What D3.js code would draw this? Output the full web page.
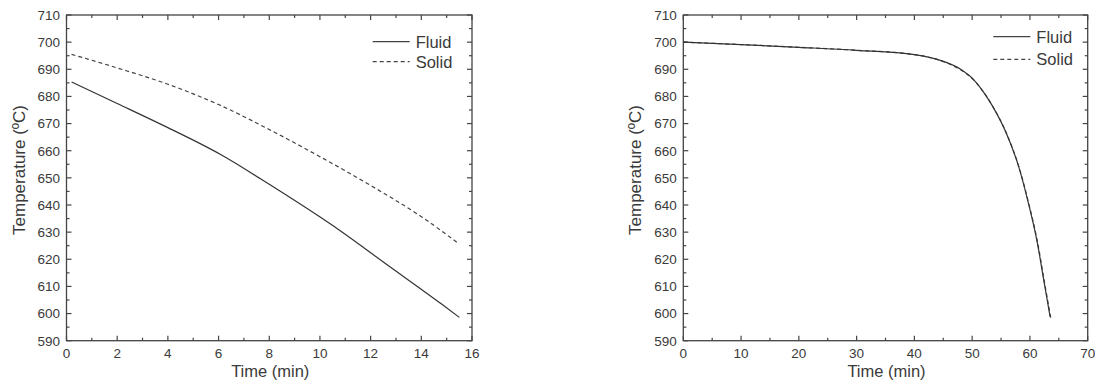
<!DOCTYPE html>
<html>
<head>
<meta charset="utf-8">
<script src="https://cdn.jsdelivr.net/npm/d3@7"></script>
<style>
  body { margin: 0; background: #fff; }
  text { font-family: "Liberation Sans", Arial, sans-serif; fill: #3a3a3a; }
</style>
</head>
<body>
<div id="chart"></div>
<script>
// left panel: short run
var leftFluidTime = [0.2, 2, 4, 6.1, 8, 10.8, 12.5, 14.8, 15.5];
var leftFluidTemp = [685.3, 677.4, 668.5, 658.5, 647.6, 630.5, 619, 603.5, 598.6];
var leftSolidTime = [0.2, 2, 4, 6, 8, 10, 12, 14, 15.5];
var leftSolidTemp = [695.5, 690.5, 684.5, 677, 667.8, 657.8, 647.2, 635.7, 625.6];

// right panel: long run
var rightFluidTime = [0, 10, 20, 30, 40, 44.5, 48, 50.2, 52, 53.5, 56, 58, 59.7, 61.2, 62.5, 63.5];
var rightFluidTemp = [700, 699.1, 698.1, 697, 695.4, 693.3, 690, 686.3, 681.5, 676.5, 666, 654.5, 641, 627, 611, 598.8];
var rightSolidTime = [0, 10, 20, 30, 40, 44.5, 48, 50.3, 52.1, 53.6, 56.1, 58.1, 59.8, 61.3, 62.6, 63.6];
var rightSolidTemp = [700, 699.1, 698.1, 697, 695.4, 693.2, 689.8, 686, 681.2, 676.2, 665.6, 654, 640.5, 626.5, 610.5, 598.5];

var yTicks = [590, 600, 610, 620, 630, 640, 650, 660, 670, 680, 690, 700, 710];
var seriesNames = ["Fluid", "Solid"];

var svg = d3.select("#chart").append("svg")
    .attr("width", 1095)
    .attr("height", 383);

function zip(ts, vs) {
    return ts.map(function(t, i) { return { t: t, v: vs[i] }; });
}

function drawPanel(opt) {
    var g = svg.append("g");
    var x = d3.scaleLinear().domain(opt.xDomain).range([opt.left, opt.right]);
    var y = d3.scaleLinear().domain([590, 710]).range([340.7, 15]);

    var majorX = d3.range(opt.xDomain[0], opt.xDomain[1] + 0.001, opt.xStep);
    var minorX = d3.range(opt.xDomain[0] + opt.xStep / 2, opt.xDomain[1], opt.xStep);
    var minorY = d3.range(595, 710, 10);

    // frame
    g.append("rect")
        .attr("x", x.range()[0]).attr("y", y.range()[1])
        .attr("width", x.range()[1] - x.range()[0])
        .attr("height", y.range()[0] - y.range()[1])
        .attr("fill", "none").attr("stroke", "#444").attr("stroke-width", 1.3);

    // inward ticks, all four sides
    function ticks(vals, len, vertical) {
        vals.forEach(function(v) {
            if (vertical) {
                var px = x(v);
                g.append("line").attr("x1", px).attr("x2", px)
                    .attr("y1", y.range()[0]).attr("y2", y.range()[0] - len);
                g.append("line").attr("x1", px).attr("x2", px)
                    .attr("y1", y.range()[1]).attr("y2", y.range()[1] + len);
            } else {
                var py = y(v);
                g.append("line").attr("y1", py).attr("y2", py)
                    .attr("x1", x.range()[0]).attr("x2", x.range()[0] + len);
                g.append("line").attr("y1", py).attr("y2", py)
                    .attr("x1", x.range()[1]).attr("x2", x.range()[1] - len);
            }
        });
    }
    ticks(majorX, 5, true);
    ticks(minorX, 3, true);
    ticks(yTicks, 5, false);
    ticks(minorY, 3, false);
    g.selectAll("line").attr("stroke", "#444").attr("stroke-width", 1.2);

    // tick labels
    g.selectAll(".xl").data(majorX).enter().append("text")
        .attr("x", function(d) { return x(d); })
        .attr("y", 358)
        .attr("text-anchor", "middle")
        .attr("font-size", "13.5px")
        .text(function(d) { return d; });

    g.selectAll(".yl").data(yTicks).enter().append("text")
        .attr("x", x.range()[0] - 6.5)
        .attr("y", function(d) { return y(d) + 4.8; })
        .attr("text-anchor", "end")
        .attr("font-size", "13.5px")
        .text(function(d) { return d; });

    // axis titles
    g.append("text")
        .attr("x", (x.range()[0] + x.range()[1]) / 2 + 1)
        .attr("y", 377)
        .attr("text-anchor", "middle")
        .attr("font-size", "16.5px")
        .text("Time (min)");

    g.append("text")
        .attr("transform", "translate(" + (x.range()[0] - 42) + ",170) rotate(-90)")
        .attr("text-anchor", "middle")
        .attr("font-size", "17px")
        .text("Temperature (ºC)");

    // curves
    var line = d3.line()
        .x(function(d) { return x(d.t); })
        .y(function(d) { return y(d.v); })
        .curve(d3.curveMonotoneX);

    g.append("path").datum(zip(opt.solidT, opt.solidV))
        .attr("d", line).attr("fill", "none")
        .attr("stroke", "#444").attr("stroke-width", 1.2)
        .attr("stroke-dasharray", "4,3");

    g.append("path").datum(zip(opt.fluidT, opt.fluidV))
        .attr("d", line).attr("fill", "none")
        .attr("stroke", "#333").attr("stroke-width", 1.2);

    // legend
    var lx = x.range()[1] - opt.legendOffset;
    seriesNames.forEach(function(name, i) {
        var ly = opt.legendY + i * opt.legendGap;
        g.append("line")
            .attr("x1", lx).attr("x2", lx + 37)
            .attr("y1", ly).attr("y2", ly)
            .attr("stroke", "#444").attr("stroke-width", 1.2)
            .attr("stroke-dasharray", i === 1 ? "4,3" : null);
        g.append("text")
            .attr("x", lx + 43).attr("y", ly + 6)
            .attr("font-size", "16.5px")
            .text(name);
    });
}

drawPanel({
    xDomain: [0, 16], xStep: 2, left: 66.5, right: 472,
    fluidT: leftFluidTime, fluidV: leftFluidTemp,
    solidT: leftSolidTime, solidV: leftSolidTemp,
    legendOffset: 99.3, legendY: 41.7, legendGap: 20
});

drawPanel({
    xDomain: [0, 70], xStep: 10, left: 683.3, right: 1087.7,
    fluidT: rightFluidTime, fluidV: rightFluidTemp,
    solidT: rightSolidTime, solidV: rightSolidTemp,
    legendOffset: 94.4, legendY: 36.7, legendGap: 22.6
});
</script>
</body>
</html>
